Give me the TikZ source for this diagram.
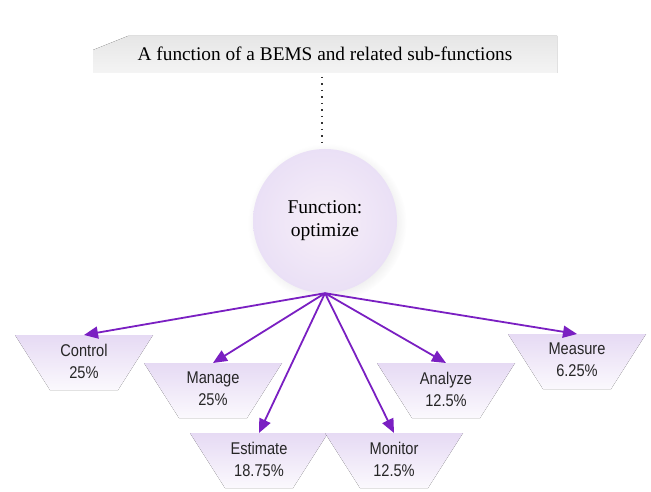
\documentclass[tikz,border=0pt]{standalone}
\usepackage{fontspec}
\setmainfont{Liberation Serif}
\newfontfamily\boxfont[FakeStretch=0.86]{Liberation Sans}
\usetikzlibrary{arrows.meta,shadows}

\definecolor{arrowpurple}{HTML}{7A1FC2}
\definecolor{boxtop}{HTML}{E6DAF4}
\definecolor{boxbottom}{HTML}{FBF9FD}
\definecolor{bannerA}{HTML}{E6E6E6}
\definecolor{bannerB}{HTML}{F4F4F4}
\definecolor{circleIn}{HTML}{F7EFF8}
\definecolor{circleOut}{HTML}{EAE0F6}

\tikzset{
  subtext/.style={font=\boxfont\fontsize{17}{22}\selectfont, align=center, text=black!85},
  subarrow/.style={-{Triangle[length=14pt,width=12pt]}, line width=1.8pt, draw=arrowpurple},
  hubnode/.style={circle, minimum size=144pt, inner sep=0pt, align=center,
    inner color=circleIn, outer color=circleOut,
    font=\fontsize{19.5}{23}\selectfont,
    circular drop shadow={shadow xshift=2pt, shadow yshift=-2pt, opacity=0.12}},
  titlenode/.style={font=\fontsize{19.3}{22}\selectfont, inner sep=0pt}
}

% inverted trapezoid with a top-to-bottom fade and a two-line label
% #1 name, #2 centre x, #3 top y, #4 first line, #5 second line
\newcommand\subfn[5]{%
  \fill[top color=boxtop, bottom color=boxbottom]
    (#2-69,#3) -- (#2+69,#3) -- (#2+34,#3+55) -- (#2-34,#3+55) -- cycle;
  \coordinate (#1) at (#2,#3);
  \node[subtext] (#1-label) at (#2,#3+26) {#4\\#5};
}

\begin{document}
\begin{tikzpicture}[x=1pt,y=-1pt]
\useasboundingbox (0,0) rectangle (651,492);
\fill[white] (0,0) rectangle (651,492);

% title banner
\fill[top color=bannerA, bottom color=bannerB]
  (93,50) -- (128,36) -- (557,36) -- (557,73) -- (93,73) -- cycle;
\node[titlenode] (title) at (325,54) {A function of a BEMS and related sub-functions};

% dotted link to the main function
\coordinate (linkA) at (322,77);
\coordinate (linkB) at (322,146);
\draw[line width=1.5pt, dash pattern=on 1.5pt off 5pt, black!80] (linkA) -- (linkB);

% main function
\node[hubnode] (fn) at (325,221) {Function:\\optimize};

% sub-functions
\subfn{ctrl}{84}{335}{Control}{25\%}
\subfn{mng}{213}{363}{Manage}{25\%}
\subfn{est}{259}{433}{Estimate}{18.75\%}
\subfn{mon}{394}{433}{Monitor}{12.5\%}
\subfn{ana}{446}{363}{Analyze}{12.5\%}
\subfn{mea}{577}{334}{Measure}{6.25\%}

% connectors
\foreach \t in {ctrl,mng,est,mon,ana,mea}
  \draw[subarrow] (fn.south) -- (\t);
\end{tikzpicture}
\end{document}
